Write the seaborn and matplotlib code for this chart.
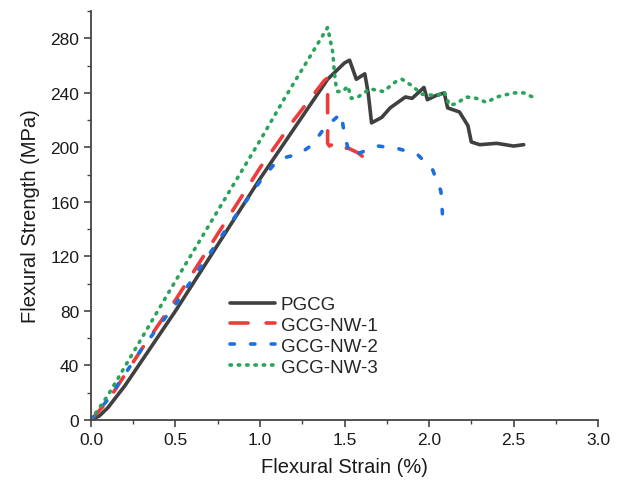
import numpy as np
import pandas as pd
import matplotlib
matplotlib.use("Agg")
import matplotlib.pyplot as plt
import seaborn as sns
from matplotlib.ticker import MultipleLocator, AutoMinorLocator

# Data (strain %, strength MPa)
pgcg_x = [0, 0.05, 0.1, 0.2, 0.5, 1.0, 1.4, 1.45, 1.5, 1.53, 1.57, 1.62, 1.64, 1.66,
          1.72, 1.77, 1.86, 1.9, 1.97, 1.99, 2.04, 2.09, 2.11, 2.18, 2.21, 2.23, 2.25,
          2.30, 2.40, 2.50, 2.56]
pgcg_y = [0, 3, 9, 25, 80, 177, 250, 256, 262, 264, 250, 254, 240, 218,
          222, 229, 237, 236, 244, 235, 238, 240, 229, 226, 220, 216, 204,
          202, 203, 201, 202]

nw1_x = [0, 0.1, 0.3, 0.5, 1.0, 1.2, 1.38, 1.40, 1.40, 1.41, 1.46, 1.49, 1.53, 1.58, 1.63]
nw1_y = [0, 14, 52, 88, 185, 220, 249, 251, 203, 201, 204, 200, 199, 196, 191]

nw2_x = [0, 0.1, 0.3, 0.5, 0.8, 1.0, 1.1, 1.16, 1.23, 1.31, 1.38, 1.48, 1.50, 1.53,
         1.59, 1.70, 1.82, 1.93, 2.02, 2.07, 2.08]
nw2_y = [0, 15, 52, 85, 140, 175, 190, 193, 195, 202, 214, 225, 209, 195,
         196, 201, 199, 195, 184, 168, 150]

nw3_x = [0, 0.1, 0.3, 0.5, 1.0, 1.15, 1.40, 1.43, 1.44, 1.45, 1.46, 1.49, 1.52, 1.54,
         1.58, 1.65, 1.73, 1.80, 1.84, 1.89, 1.96, 2.05, 2.09, 2.12, 2.16, 2.22, 2.28,
         2.34, 2.40, 2.50, 2.56, 2.63]
nw3_y = [0, 18, 60, 102, 205, 237, 288, 270, 255, 245, 241, 241, 245, 236,
         237, 243, 241, 248, 250, 246, 239, 238, 241, 231, 232, 237, 236,
         233, 237, 240, 240, 236]

labels = ["PGCG", "GCG-NW-1", "GCG-NW-2", "GCG-NW-3"]
colors = ["#404040", "#ef3b3b", "#1c6fe0", "#2ba35c"]

sns.set_style("ticks")
plt.rcParams["font.family"] = ["Liberation Sans", "DejaVu Sans"]

fig, ax = plt.subplots(figsize=(6.23, 4.85), dpi=100)

series = [(pgcg_x, pgcg_y), (nw1_x, nw1_y), (nw2_x, nw2_y), (nw3_x, nw3_y)]
styles = ["-", (0, (5, 5)), (0, (1.2, 4.5)), (0, (0.4, 1.9))]
for (xs, ys), lab, col, ls in zip(series, labels, colors, styles):
    df = pd.DataFrame({"x": xs, "y": ys})
    sns.lineplot(data=df, x="x", y="y", ax=ax, color=col, label=lab,
                 sort=False, estimator=None, linewidth=2.6, linestyle=ls,
                 dash_capstyle="round", solid_capstyle="round")

ax.set_xlim(0, 3.0)
ax.set_ylim(0, 300)
ax.xaxis.set_major_locator(MultipleLocator(0.5))
ax.xaxis.set_minor_locator(AutoMinorLocator(2))
ax.set_yticks([0, 40, 80, 120, 160, 200, 240, 280])
ax.yaxis.set_minor_locator(AutoMinorLocator(2))
ax.set_xticks([0, 0.5, 1.0, 1.5, 2.0, 2.5, 3.0])
ax.set_xticklabels([f"{v:.1f}" for v in ax.get_xticks()])

ax.tick_params(axis="both", which="major", length=5, width=1.2, labelsize=12.5,
               direction="out", color="#444444", labelcolor="#1a1a1a")
ax.tick_params(axis="both", which="minor", length=3, width=1.0, color="#444444")
for s in ["left", "bottom"]:
    ax.spines[s].set_linewidth(1.3)
    ax.spines[s].set_color("#444444")
sns.despine(ax=ax)

ax.set_xlabel("Flexural Strain (%)", fontsize=14.5, labelpad=7, color="#1a1a1a")
ax.set_ylabel("Flexural Strength (MPa)", fontsize=14.5, labelpad=7, color="#1a1a1a")

ax.legend(loc="upper left", bbox_to_anchor=(0.245, 0.34), frameon=False,
          fontsize=13.5, handlelength=2.4, handletextpad=0.3, labelspacing=0.2,
          borderpad=0.3)

fig.subplots_adjust(left=0.146, right=0.96, bottom=0.132, top=0.975)
fig.savefig("out.png", dpi=100)
